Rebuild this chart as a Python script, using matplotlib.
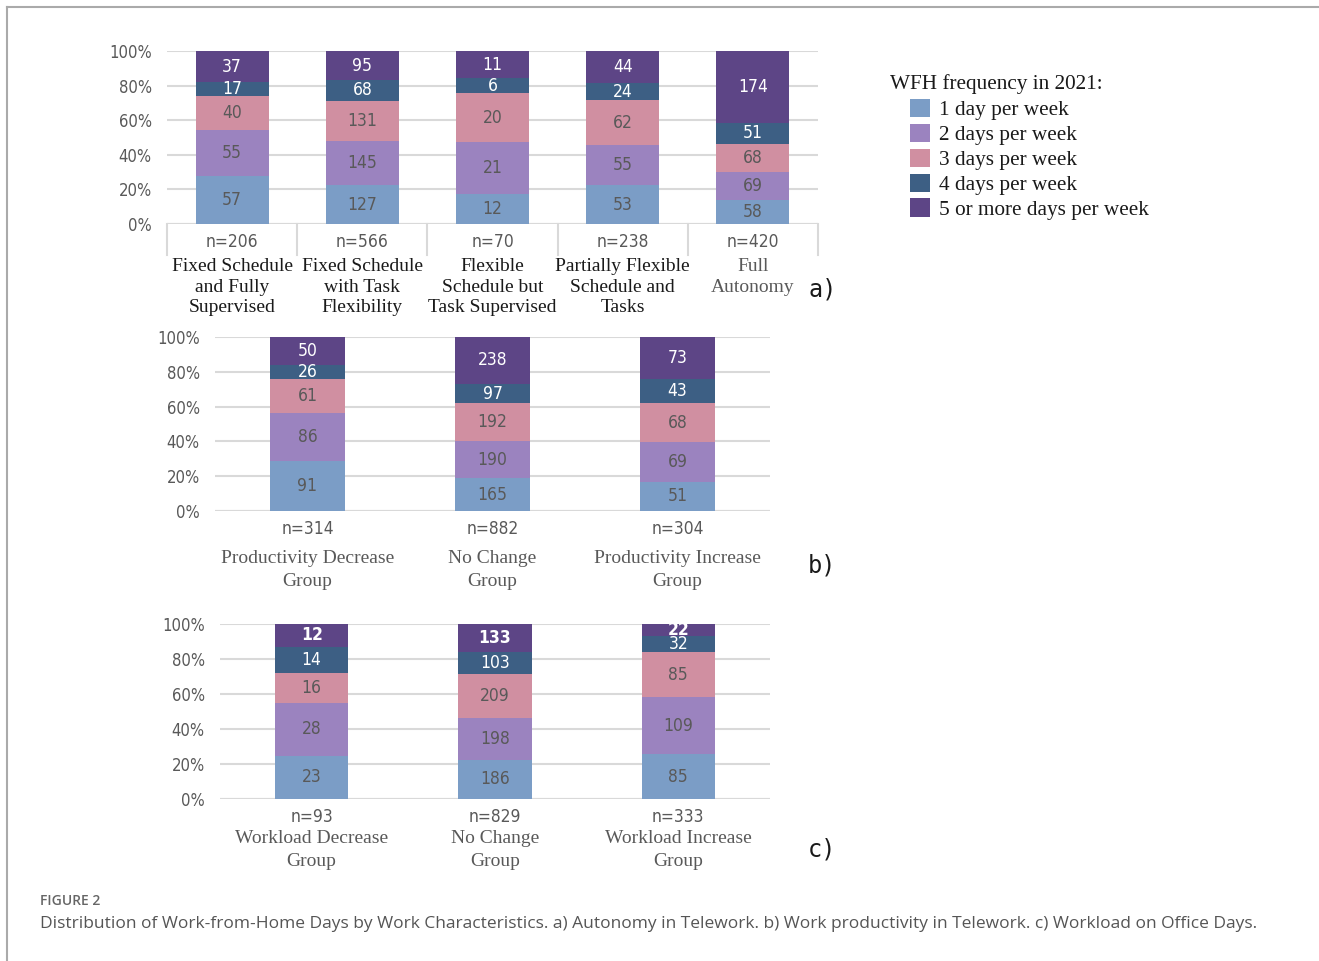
import matplotlib
matplotlib.use("Agg")
import matplotlib.pyplot as plt
from matplotlib.patches import Patch
from matplotlib.lines import Line2D
import numpy as np

# ---- data ----
series_names = ["1 day per week", "2 days per week", "3 days per week",
                "4 days per week", "5 or more days per week"]
colors = ["#7b9dc6", "#9b83bf", "#d08fa1", "#3d5f84", "#5d4586"]
label_colors = ["#595959", "#595959", "#595959", "white", "white"]

a_cats = ["Fixed Schedule\nand Fully\nSupervised", "Fixed Schedule\nwith Task\nFlexibility",
          "Flexible\nSchedule but\nTask Supervised", "Partially Flexible\nSchedule and\nTasks",
          "Full\nAutonomy"]
a_vals = [[57, 55, 40, 17, 37],
          [127, 145, 131, 68, 95],
          [12, 21, 20, 6, 11],
          [53, 55, 62, 24, 44],
          [58, 69, 68, 51, 174]]

b_cats = ["Productivity Decrease\nGroup", "No Change\nGroup", "Productivity Increase\nGroup"]
b_vals = [[91, 86, 61, 26, 50],
          [165, 190, 192, 97, 238],
          [51, 69, 68, 43, 73]]

c_cats = ["Workload Decrease\nGroup", "No Change\nGroup", "Workload Increase\nGroup"]
c_vals = [[23, 28, 16, 14, 12],
          [186, 198, 209, 103, 133],
          [85, 109, 85, 32, 22]]
c_bold = [[False, False, False, False, True],
          [False, False, False, False, True],
          [False, False, False, False, True]]

cond = dict(family="DejaVu Sans", stretch="condensed")
serif = ["Liberation Serif", "DejaVu Serif"]
GRAY = "#595959"
GRID = "#d9d9d9"

W, H = 1319, 961
fig = plt.figure(figsize=(W / 100, H / 100), dpi=100)


def px_axes(l, r, top, bot):
    return fig.add_axes([l / W, 1 - bot / H, (r - l) / W, (bot - top) / H])


def stacked(ax, cats, vals, width, bold=None, cat_color=None, n_off=18,
            lab_off=28, seps=False, lab_size=14, lab_ls=1.05):
    vals = np.array(vals, dtype=float)
    totals = vals.sum(axis=1)
    pct = vals / totals[:, None] * 100
    x = np.arange(len(cats))
    bottom = np.zeros(len(cats))
    for s in range(vals.shape[1]):
        ax.bar(x, pct[:, s], width, bottom=bottom, color=colors[s], zorder=3)
        for i in range(len(cats)):
            b = bold[i][s] if bold else False
            ax.text(x[i], bottom[i] + pct[i, s] / 2, f"{int(vals[i, s])}",
                    ha="center", va="center", color=label_colors[s],
                    fontsize=12.5, fontweight="bold" if b else "normal",
                    zorder=4, **cond)
        bottom += pct[:, s]
    ax.set_xlim(-0.5, len(cats) - 0.5)
    ax.set_ylim(0, 100)
    ax.set_yticks(np.arange(0, 101, 20))
    ax.set_yticklabels([f"{v}%" for v in range(0, 101, 20)], fontsize=12,
                       color=GRAY, **cond)
    ax.tick_params(length=0, pad=11)
    ax.set_xticks([])
    ax.grid(axis="y", color=GRID, lw=1.5, zorder=0)
    for sp in ax.spines.values():
        sp.set_visible(False)
    ax.axhline(0, color=GRID, lw=1.5, zorder=1)
    tr = ax.get_xaxis_transform()
    for i in range(len(cats)):
        ax.annotate(f"n={int(totals[i])}", (x[i], 0), xycoords=tr,
                    xytext=(0, -n_off), textcoords="offset pixels",
                    ha="center", va="center", fontsize=12.5, color=GRAY, **cond)
        col = cat_color[i] if cat_color else GRAY
        ax.annotate(cats[i], (x[i], 0), xycoords=tr,
                    xytext=(0, -lab_off), textcoords="offset pixels",
                    ha="center", va="top", family=serif, fontsize=lab_size,
                    color=col, linespacing=lab_ls)
    if seps:
        hpx = ax.get_window_extent().height
        for xs in np.arange(-0.5, len(cats), 1.0):
            ax.add_line(Line2D([xs, xs], [0, -31 / hpx], transform=tr,
                               color=GRID, lw=1.5, clip_on=False))


ax_a = px_axes(167, 818, 51, 224)
stacked(ax_a, a_cats, a_vals, 0.56,
        cat_color=["#1a1a1a"] * 4 + [GRAY], n_off=18, lab_off=34, seps=True,
        lab_ls=1.28)

ax_b = px_axes(215, 770, 337, 511)
stacked(ax_b, b_cats, b_vals, 0.405, n_off=18, lab_off=39, lab_ls=1.45)

ax_c = px_axes(220, 770, 624, 799)
stacked(ax_c, c_cats, c_vals, 0.4, bold=c_bold, n_off=18, lab_off=31,
        lab_ls=1.45)

# panel letters
for lab, yy in [("a)", 289), ("b)", 566), ("c)", 850)]:
    fig.text(808 / W, 1 - yy / H, lab, family="DejaVu Sans Mono", fontsize=17,
             va="center", ha="left", color="#1a1a1a")

# legend
fig.text(890 / W, 1 - 84 / H, "WFH frequency in 2021:", family=serif,
         fontsize=15.3, color="#1a1a1a", va="center", ha="left")
handles = [Patch(facecolor=c, edgecolor="none") for c in colors]
leg = fig.legend(handles, series_names, loc="upper left",
                 bbox_to_anchor=(910 / W, 1 - 99 / H), frameon=False,
                 prop={"family": serif, "size": 15.3}, handlelength=0.95,
                 handleheight=0.95, handletextpad=0.4, labelspacing=0.16,
                 borderpad=0, borderaxespad=0)
for t in leg.get_texts():
    t.set_color("#1a1a1a")

# caption
fig.text(40 / W, 1 - 901 / H, "FIGURE 2", family="Open Sans", fontsize=10,
         color="#666666", va="center", fontweight="semibold")
fig.text(40 / W, 1 - 924 / H,
         "Distribution of Work-from-Home Days by Work Characteristics. a) Autonomy in Telework. "
         "b) Work productivity in Telework. c) Workload on Office Days.",
         family="Open Sans", fontsize=12.55, color="#555555", va="center")

# frame lines
fig.add_artist(Line2D([7 / W, 7 / W], [0, 1 - 7 / H], transform=fig.transFigure,
                      color="#aaaaaa", lw=1.5))
fig.add_artist(Line2D([7 / W, 1], [1 - 7 / H, 1 - 7 / H], transform=fig.transFigure,
                      color="#aaaaaa", lw=1.5))

fig.savefig("out.png", dpi=100, facecolor="white")
